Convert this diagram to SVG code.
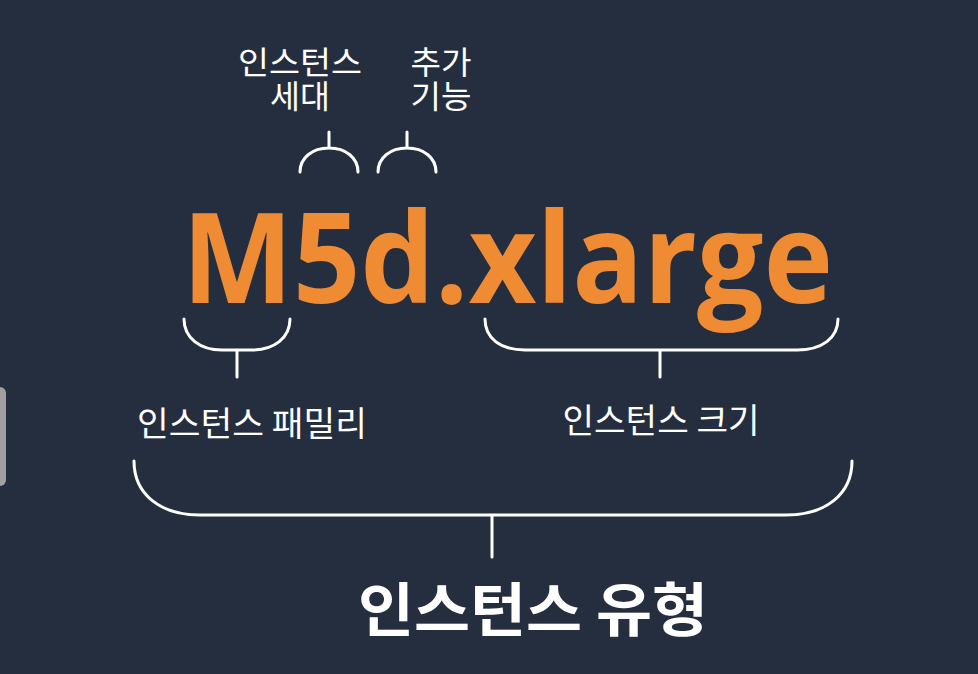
<svg xmlns="http://www.w3.org/2000/svg" width="978" height="674" viewBox="0 0 978 674">
<style>
.kr{font-family:"Noto Sans CJK KR","Noto Sans",sans-serif;fill:#ffffff;text-anchor:middle}
.br{fill:none;stroke:#ffffff;stroke-width:3;stroke-linecap:round}
</style>
<rect width="978" height="674" fill="#252e3e"/>
<rect x="-10" y="387" width="16" height="99" rx="6" fill="#a0a0a0"/>
<g id="title">
<text x="182" y="303" font-family="'Open Sans','Noto Sans',sans-serif" font-weight="bold" font-size="126" fill="#ef8b33" textLength="651" lengthAdjust="spacingAndGlyphs">M5d.xlarge</text>
</g>
<g id="gen-label"><text class="kr" x="300" y="74" font-size="32" textLength="124" lengthAdjust="spacingAndGlyphs">인스턴스</text><text class="kr" x="300" y="108" font-size="32" textLength="60" lengthAdjust="spacingAndGlyphs">세대</text></g>
<g id="feature-label"><text class="kr" x="441" y="74" font-size="32" textLength="61" lengthAdjust="spacingAndGlyphs">추가</text><text class="kr" x="441" y="108" font-size="32" textLength="61" lengthAdjust="spacingAndGlyphs">기능</text></g>
<g id="family-label"><text class="kr" x="252" y="436" font-size="34" textLength="230" lengthAdjust="spacingAndGlyphs">인스턴스 패밀리</text></g>
<g id="size-label"><text class="kr" x="661" y="433" font-size="34" textLength="197" lengthAdjust="spacingAndGlyphs">인스턴스 크기</text></g>
<g id="type-label"><text class="kr" x="533" y="631" font-size="58" font-weight="bold" textLength="350" lengthAdjust="spacingAndGlyphs">인스턴스 유형</text></g>
<g id="connectors">
<path class="br" d="M300,172 C300,158 312,148 329,148 C346,148 358,158 358,172 M329,148 V132"/>
<path class="br" d="M378,172 C378,158 390,148 407,148 C424,148 436,158 436,172 M407,148 V132"/>
<path class="br" d="M184,319 C184,338 200,350 222,350 L252,350 C274,350 290,338 290,319 M237,350 V377"/>
<path class="br" d="M485,319 C485,338 500,350 525,350 L797,350 C822,350 838,338 838,319 M660,350 V377"/>
<path class="br" d="M134,461 C134,494 160,515 200,515 L786,515 C826,515 852,494 852,461 M492,515 V557"/>
</g>
</svg>
